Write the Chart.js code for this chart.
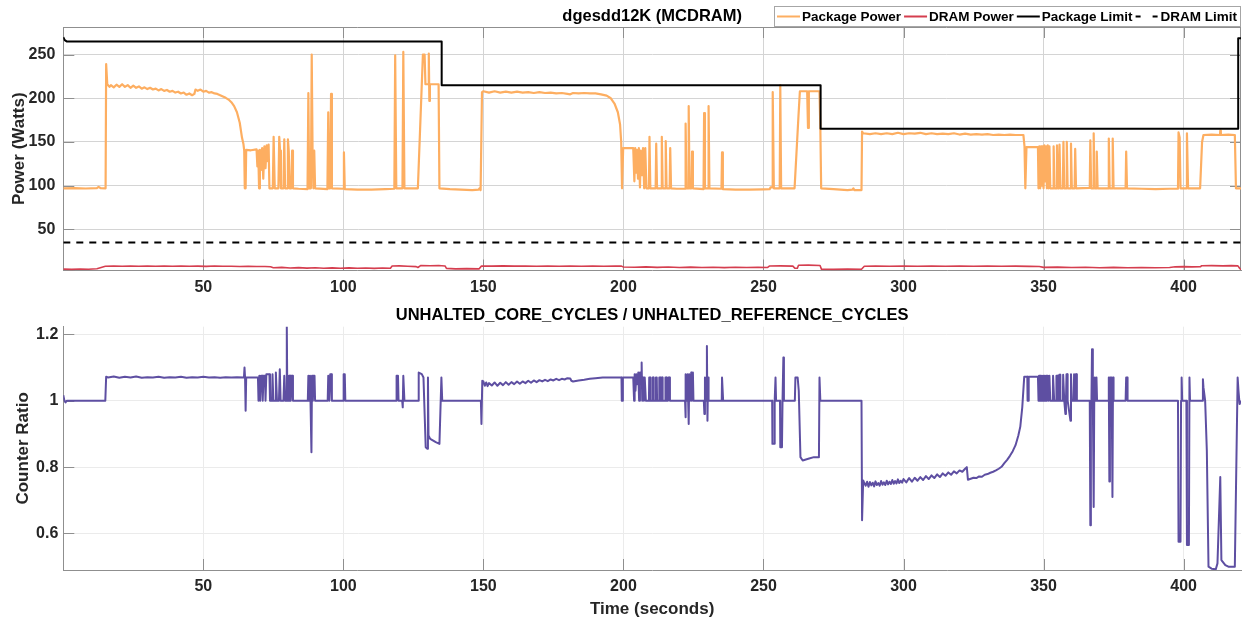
<!DOCTYPE html>
<html>
<head>
<meta charset="utf-8">
<script src="https://cdn.jsdelivr.net/npm/chart.js@4.4.1/dist/chart.umd.min.js"></script>
<style>
  html, body { margin: 0; padding: 0; background: #fff; }
  #wrap { position: relative; width: 1243px; height: 620px; }
  canvas { position: absolute; left: 0; }
  #powerChart { top: 0; }
  #ratioChart { top: 300px; }
</style>
</head>
<body>
<div id="wrap">
  <canvas id="powerChart" width="1243" height="300"></canvas>
  <canvas id="ratioChart" width="1243" height="320"></canvas>
</div>
<script>
// ---- axis ranges and tick labels ----
const timeRange = [0, 420.5];
const powerRange = [3, 281.5];
const ratioRange = [0.49, 1.223];
const timeTicks = [50, 100, 150, 200, 250, 300, 350, 400];
const powerTicks = [50, 100, 150, 200, 250];
const ratioTicks = [0.6, 0.8, 1, 1.2];

const seriesNames = ['Package Power', 'DRAM Power', 'Package Limit', 'DRAM Limit'];
const powerTitle = 'dgesdd12K (MCDRAM)';
const ratioTitle = 'UNHALTED_CORE_CYCLES / UNHALTED_REFERENCE_CYCLES';
const powerAxisTitle = 'Power (Watts)';
const ratioAxisTitle = 'Counter Ratio';
const timeAxisTitle = 'Time (seconds)';

// ---- measured series: [time (s), value] ----
const packagePower = [
 [0,97],[4,97.2],[8,96.8],[12,97.3],[12.6,98.6],[13.4,97.1],[15.1,97],[15.3,239],[15.7,216],
 [16.5,213],[17,215],[18,212.5],[19,215.5],[20,213],[21,216],[22,213],[23,215],[24,212],[25,214.5],
 [26,212],[27,213.5],[28,211],[29,212.5],[30,210.5],[31,212],[32,210],[33,211],[34,209],[35,210.5],
 [36,208.5],[37,209.5],[38,207.5],[39,208.5],[40,206.5],[41,207.5],[42,205.5],[43,206.5],[44,204],
 [45,205.5],[46,203.5],[46.8,205],[47.2,210],[48,208.5],[49,210],[50,207.5],[51,208.5],[52,206.5],
 [53,207],[54,205.5],[55,205],[56,203.5],[57,202],[58,200.5],[59,198.5],[60,195.5],[61,191],[62,184],
 [63,172],[63.8,155],[64.3,148],[64.6,140],[64.8,97],[65.1,97],[65.3,141],[67,140.5],[69,141.5],
 [69.3,122],[69.6,140],[69.9,97],[70.2,141],[70.6,118],[71,143],[71.4,108],[71.8,145],[72.2,120],
 [72.6,146],[73,128],[73.3,147],[73.6,97],[74.8,97],[75.1,156],[75.5,97],[76.8,97],[77.1,156],
 [77.4,140],[77.7,97],[78.6,97],[78.9,153],[79.2,97],[79.9,97],[80.2,153],[80.5,140],[80.8,97],
 [81.4,97],[81.7,140],[82,97],[84,96.5],[87.2,96],[87.5,206],[87.8,97],[88.4,97],[88.7,250],
 [89,140],[89.3,97],[89.6,140],[89.9,97],[94.3,96],[94.6,184],[94.9,97],[95.3,97],[95.6,205],
 [95.9,97],[99.9,96.5],[100.2,138],[100.5,96],[105,95.5],[110,95.5],[115,96],[118.2,96.5],[118.5,249],
 [118.9,97],[121.1,97],[121.4,253],[121.8,97],[126.6,97],[128.4,250],[129,250],[129.3,216],[130.3,216],
 [130.5,251],[130.7,197],[130.9,216],[134,216],[134.3,97],[138,96],[142,95.5],[146,95],[148.3,95.5],
 [148.6,97],[149,95],[149.5,207],[150,208],[152,206.5],[154,208],[156,206.5],[158,207.5],[160,206.5],
 [162,207.5],[164,206.5],[166,207],[168,206],[170,207],[172,206],[174,206.5],[176,205.5],[178,206],
 [180,205],[181,204.5],[182,206],[184,205.5],[186,206],[188,205.5],[190,205.5],[192,204.5],[194,203],
 [195.5,200],[196.8,194],[198,184],[198.8,170],[199.2,150],[199.5,97],[199.9,143],[203.5,143],
 [203.9,105],[204.2,143],[204.5,115],[204.8,141],[205.2,108],[205.5,143],[205.9,98],[206.2,140],
 [206.6,112],[207,143],[207.4,97],[207.8,143],[208.2,97],[209.1,97],[209.3,156],[209.6,97],[211.5,97],
 [211.7,148],[212,97],[213.5,97],[213.7,156],[214,97],[214.9,97],[215.1,151],[215.4,97],[216.5,97],
 [216.7,143],[217,97],[219,96.5],[222,96.5],[222.2,171],[222.5,97],[223.1,97],[223.3,191],[223.6,97],
 [224.3,97],[224.5,139],[224.8,97],[228.6,96],[228.8,183],[229.1,97],[230.2,97],[230.4,191],[230.7,97],
 [235,96.5],[235.2,138],[235.5,96],[240,95.5],[245,95.5],[250,95.8],[252.2,96],[252.5,98],[253.1,98],
 [253.3,207],[253.7,97],[255.8,97],[256,215],[256.3,97],[261.1,97],[262.5,180],[263,208],[265.6,208],
 [265.9,166],[266.2,208],[270,208],[270.3,167],[270.6,97],[275,96],[280,95],[281.8,95.5],[282.1,97],
 [282.4,95],[285,95],[285.2,162],[285.6,160],[288,159],[290,160],[292,159],[294,160],[296,159],[298,160.5],
 [300,159],[302,160],[304,159.5],[306,160.5],[308,159],[310,160],[312,159],[314,159.5],[316,159],
 [318,160],[320,158.5],[322,159.5],[324,158.5],[326,159],[328,158.5],[330,159],[332,158],[334,158.5],
 [336,158],[338,158.5],[340,158],[342.8,158],[343.2,145],[343.5,97],[343.9,144],[348,144],
 [348.2,97],[348.5,145],[348.8,97],[349.1,145],[349.4,100],[349.7,145],[350,97],[350.3,146],[350.6,105],
 [350.9,145],[351.2,97],[351.5,146],[351.8,97],[352.1,145],[352.4,97],[353.4,97],[353.6,145],[353.9,97],
 [354.6,97],[354.8,146],[355.1,97],[355.5,97],[355.7,147],[356,97],[356.9,97],[357.1,150],[357.4,97],
 [358.1,97],[358.3,150],[358.6,97],[359.6,97],[359.8,148],[360.1,97],[361.1,97],[361.3,142],[361.6,97],
 [366.5,97.5],[366.7,152],[367,97],[367.7,97],[367.9,160],[368.2,97],[368.8,97],[369,139],[369.3,97],
 [373.1,97],[373.3,154],[373.6,97],[374.5,97],[374.7,154],[375,97],[379.3,97],[379.5,139],[379.8,97],
 [385,96.5],[390,96],[395,96.5],[398,96.5],[398.2,161],[398.6,155],[398.9,97],[401,97],[401.2,160],
 [401.6,97],[405.9,97],[406.6,150],[407.1,158],[410,158.5],[413,158],[413.1,163],[413.3,158],[416,158.5],
 [418.3,158],[418.7,97],[420.5,97]
];

const dramPower = [
 [0,4.6],[3,4.3],[6,4.7],[9,4.4],[12,5],[13.5,6.5],[15,7.8],[18,8.1],[21,7.8],[24,8.2],[27,7.9],[30,8.2],
 [33,7.8],[36,8.1],[39,7.9],[42,8.2],[45,7.8],[48,8],[51,7.7],[54,8.1],[57,7.8],[60,7.9],[63,7.6],[66,7.8],
 [69,7.5],[72,7.6],[74,7.3],[75,6.2],[78,6.6],[81,5.9],[84,6.3],[87,5.7],[90,6.2],[93,5.6],[96,6],[99,5.5],
 [102,6],[105,5.6],[108,5.9],[111,5.4],[114,5.8],[116.8,5.5],[117.4,8.1],[120,8.3],[123,7.9],[126,7.4],
 [126.6,6.4],[127.7,8.8],[131,8.5],[134,8.7],[136.3,8.2],[136.8,5.4],[140,4.9],[144,5.2],[148.5,4.9],
 [149.3,8.2],[153,8],[157,8.3],[161,8],[165,8.2],[169,7.9],[173,8.2],[177,7.9],[181,8.1],[185,7.8],
 [189,8.1],[193,7.9],[197,8.1],[199.3,8],[200,7],[204,6.7],[208,7.1],[212,6.6],[216,7],[220,6.5],
 [224,6.9],[228,6.4],[232,6.8],[236,6.3],[240,6.7],[244,6.4],[248,6.8],[251.5,6.5],[252.2,8.2],[256,8.3],
 [260.5,8],[261.2,5.5],[262.1,5.6],[262.5,9],[266,9.2],[270.2,8.8],[270.7,4.6],[275,4.3],[280,4.6],
 [285,4.4],[286,7.9],[290,8.1],[295,7.8],[300,8.2],[305,7.9],[310,8.1],[315,7.8],[320,8.1],[325,7.9],
 [330,8.2],[335,7.8],[340,8],[345,7.7],[348.5,7.5],[350,6.6],[355,6.9],[360,6.4],[365,6.8],[370,6.2],
 [375,6.6],[380,6.1],[385,6.5],[390,6.2],[395,6.4],[397,7.2],[400,7.4],[403,7.1],[406,7.3],[406.5,8.5],
 [410,8.6],[414,8.3],[417,8.6],[419.4,8.3],[420,5.5],[420.5,3.8]
];

const packageLimit = [
 [0,270],[0.5,266.5],[1.2,265],[135.1,265],[135.1,215],[270.4,215],[270.4,165],[419.5,165],
 [419.5,268.5],[420.5,268.5]
];

const dramLimit = [[0,35],[420.5,35]];

const counterRatio = [
 [0,1.017],[0.4,1.0],[0.8,0.995],[1.2,1.0],[15,1.0],[15.3,1.072],[16,1.07],[18,1.073],[20,1.069],
 [22,1.072],[24,1.07],[26,1.073],[28,1.069],[30,1.071],[32,1.07],[34,1.072],[36,1.069],[38,1.071],
 [40,1.07],[42,1.072],[44,1.069],[46,1.071],[48,1.07],[50,1.072],[52,1.07],[54,1.071],[56,1.069],
 [58,1.071],[60,1.07],[62,1.071],[64.5,1.07],[64.7,1.10],[64.9,1.07],[65.1,0.97],[65.3,1.07],[69.5,1.07],
 [69.7,1.0],[70.0,1.075],[70.3,1.0],[70.6,1.075],[71,1.075],[71.2,1.0],[71.5,1.075],[72,1.075],[72.2,1.0],
 [72.5,1.08],[73.6,1.08],[73.8,1.0],[74.5,1.0],[74.7,1.08],[75,1.0],[75.7,1.0],[75.9,1.085],[76.3,1.0],
 [77,1.0],[77.3,1.095],[77.6,1.0],[78.6,1.0],[78.9,1.075],[79.2,1.0],[79.6,1.0],[79.8,1.225],[80,1.0],
 [80.2,1.075],[80.4,1.0],[80.6,1.075],[80.8,1.0],[81,1.075],[81.2,1.0],[81.5,1.075],[81.8,1.075],[82,1.0],
 [87.3,1.0],[87.5,1.075],[87.8,1.0],[88.1,1.075],[88.4,1.075],[88.6,0.845],[88.8,1.075],[89.1,1.0],
 [89.4,1.075],[89.7,1.075],[89.9,1.0],[94.4,1.0],[94.6,1.075],[95,1.0],[95.3,1.08],[95.7,1.08],[95.9,1.0],
 [99.9,1.0],[100.1,1.08],[100.5,1.08],[100.7,1.0],[118.8,1.0],[119.0,1.075],[119.5,1.075],[119.7,1.0],
 [121.0,1.0],[121.2,0.98],[121.4,1.075],[121.8,1.0],[126.7,1.0],[126.9,1.085],[128,1.08],[128.6,1.07],
 [129.4,0.86],[130.0,0.855],[130.2,1.07],[130.4,0.895],[131,0.885],[133,0.875],[134.3,0.87],[135.0,1.07],
 [135.3,1.0],[149.1,1.0],[149.3,0.93],[149.6,1.06],[150,1.058],[150.5,1.045],[151,1.055],[151.5,1.044],
 [152,1.053],[153,1.046],[154,1.055],[155,1.045],[156,1.054],[157,1.047],[158,1.056],[159,1.048],
 [160,1.056],[161,1.05],[162,1.058],[163,1.051],[164,1.058],[165,1.053],[166,1.06],[167,1.054],
 [168,1.061],[169,1.056],[170,1.062],[171,1.058],[172,1.063],[173,1.059],[174,1.064],[175,1.061],
 [176,1.066],[177,1.062],[178,1.066],[179,1.064],[180,1.068],[181,1.067],[181.4,1.06],[182,1.058],
 [184,1.061],[186,1.063],[188,1.066],[190,1.068],[192.6,1.07],[199.3,1.07],[199.4,1.0],[199.7,1.0],
 [199.8,1.07],[203.5,1.07],[203.8,1.0],[204,1.08],[204.3,1.03],[204.6,1.08],[205,1.05],[205.3,1.085],
 [205.6,1.0],[205.9,1.085],[206.3,1.085],[206.5,1.115],[206.7,1.0],[207,1.07],[207.3,1.0],[207.6,1.07],
 [208,1.0],[209.1,1.0],[209.2,1.07],[209.5,1.07],[209.6,1.0],[210.3,1.0],[210.4,1.07],[210.7,1.07],
 [210.8,1.0],[211.5,1.0],[211.6,1.07],[211.9,1.07],[212,1.0],[212.7,1.0],[212.8,1.07],[213.1,1.07],
 [213.2,1.0],[213.5,1.0],[213.6,1.07],[213.9,1.07],[214,1.0],[214.9,1.0],[215,1.07],[215.3,1.07],
 [215.4,1.0],[215.9,1.0],[216,1.07],[216.5,1.07],[216.6,1.0],[222,1.0],[222.1,0.95],[222.3,1.08],
 [222.5,1.0],[222.9,1.08],[223.1,1.0],[223.3,0.93],[223.5,1.08],[223.8,1.0],[224.2,1.085],[224.4,1.0],
 [224.8,1.085],[225,1.0],[228.7,1.0],[228.9,0.96],[229.1,1.07],[229.3,1.0],[229.5,1.0],[229.8,1.165],
 [230,0.94],[230.2,1.07],[230.4,1.0],[235.1,1.0],[235.2,1.07],[235.5,1.07],[235.6,1.0],[253.1,1.0],
 [253.2,0.87],[253.8,0.87],[254,1.0],[254.3,1.07],[254.5,1.0],[255.9,1.0],[256,0.86],[256.6,0.86],
 [256.8,1.0],[257.1,1.13],[257.3,1.0],[261.2,1.0],[261.4,1.07],[262.2,1.07],[262.6,1.03],[263.2,0.83],
 [264,0.82],[266,0.825],[268,0.83],[269.8,0.83],[270,1.07],[270.3,1.0],[285,1.0],[285.2,0.64],
 [285.6,0.76],[286,0.752],[286.5,0.744],[287,0.756],[287.5,0.741],[288,0.755],[288.5,0.745],[289,0.753],
 [289.5,0.742],[290,0.757],[290.5,0.746],[291,0.752],[291.5,0.744],[292,0.758],[292.5,0.747],[293,0.754],
 [293.5,0.746],[294,0.759],[294.5,0.748],[295,0.756],[295.5,0.749],[296,0.761],[296.5,0.75],[297,0.758],
 [297.5,0.751],[298,0.763],[298.5,0.752],[299,0.759],[299.5,0.753],[300,0.764],[301,0.754],[302,0.767],
 [303,0.756],[304,0.768],[305,0.759],[306,0.77],[307,0.761],[308,0.773],[309,0.764],[310,0.775],
 [311,0.767],[312,0.778],[313,0.77],[314,0.781],[315,0.774],[316,0.784],[317,0.777],[318,0.787],
 [319,0.781],[320,0.79],[321,0.786],[322,0.795],[322.6,0.8],[323,0.762],[324,0.765],[325,0.768],
 [326,0.767],[327,0.772],[328,0.771],[329,0.777],[330,0.779],[331,0.783],[332,0.786],[333,0.79],
 [334,0.795],[335,0.801],[336,0.812],[337,0.822],[338,0.834],[339,0.848],[340,0.866],[341,0.895],
 [341.7,0.922],[342.4,0.98],[343.1,1.072],[344.2,1.072],[344.3,1.0],[344.6,1.0],[344.7,1.072],[348,1.072],
 [348.2,1.0],[348.4,1.075],[348.7,1.0],[348.9,1.075],[349.2,1.0],[349.4,1.075],[349.7,1.0],[349.9,1.075],
 [350.2,1.0],[350.4,1.075],[350.7,1.0],[350.9,1.075],[351.2,1.0],[351.5,1.075],[351.8,1.0],[352.1,1.075],
 [352.4,1.0],[353.3,1.0],[353.4,1.075],[353.7,1.075],[353.8,1.0],[354.5,1.0],[354.6,1.075],[354.9,1.075],
 [355,1.0],[355.5,1.0],[355.6,1.078],[355.9,1.078],[356,1.0],[356.9,1.0],[357,1.078],[357.3,1.078],
 [357.4,1.0],[357.8,0.96],[358,1.0],[358.2,1.08],[358.5,1.08],[358.6,1.0],[359.6,0.94],[359.8,1.08],
 [360.1,1.0],[360.8,1.0],[360.9,1.08],[361.2,1.08],[361.3,1.0],[361.5,1.08],[361.8,1.08],[361.9,1.0],
 [366.5,1.0],[366.7,0.625],[366.9,1.0],[367.1,1.0],[367.3,1.155],[367.6,1.0],[367.9,0.68],[368.1,1.0],
 [368.3,1.07],[368.6,1.0],[368.9,1.07],[369.1,1.0],[373.1,1.0],[373.3,1.07],[373.5,0.757],[373.7,1.07],
 [374.3,1.07],[374.6,0.71],[374.8,1.07],[375,1.0],[379.3,1.0],[379.5,1.07],[379.8,1.07],[380,1.0],
 [398,1.0],[398.2,0.575],[398.9,0.575],[399.1,1.0],[399.3,1.07],[399.5,1.0],[401.0,1.0],[401.2,0.565],
 [401.9,0.565],[402.1,1.07],[402.3,1.0],[406.7,1.0],[406.9,1.065],[407.1,1.04],[407.7,1.0],[408.3,0.85],
 [408.9,0.5],[410,0.494],[411.5,0.492],[412.1,0.51],[413.1,0.77],[413.5,0.52],[414.9,0.505],[416,0.5],
 [418.3,0.5],[419.3,1.07],[419.6,1.03],[420,0.99],[420.5,1.0]
];

// ---- styling ----
const FONT = '"Liberation Sans", Arial, Helvetica, sans-serif';
const TEXT = '#262626';
const AXIS = '#8f8f8f';
const TICK_FONT = { family: FONT, size: 16, weight: 'bold' };
const LABEL_SIZE = 17;
const PLOT_LEFT = 63.3;
const PLOT_RIGHT_PAD = 2;

const toXY = rows => rows.map(([x, y]) => ({ x, y }));

function timeAxis(gridColor, height, pad) {
  return {
    type: 'linear', min: timeRange[0], max: timeRange[1],
    afterBuildTicks: s => { s.ticks = timeTicks.map(v => ({ value: v })); },
    afterFit: s => { s.height = height; },
    grid: { color: gridColor, lineWidth: 1, drawTicks: false },
    border: { color: AXIS, width: 1 },
    ticks: { color: TEXT, font: TICK_FONT, padding: pad, maxRotation: 0, autoSkip: false,
             callback: v => String(v) }
  };
}

function valueAxis(range, ticks, gridColor, pad) {
  return {
    type: 'linear', min: range[0], max: range[1],
    afterBuildTicks: s => { s.ticks = ticks.map(v => ({ value: v })); },
    afterFit: s => { s.width = PLOT_LEFT; },
    grid: { color: gridColor, lineWidth: 1, drawTicks: false },
    border: { color: AXIS, width: 1 },
    ticks: { color: TEXT, font: TICK_FONT, padding: pad, autoSkip: false,
             callback: v => String(v) }
  };
}

// inward tick marks (and the closing box for the power panel)
function drawFrame(chart, yTicks, boxed) {
  const { ctx, chartArea: a, scales: { x, y } } = chart;
  const L = 11;
  ctx.save();
  ctx.strokeStyle = AXIS;
  ctx.lineWidth = 1;
  ctx.beginPath();
  for (const v of timeTicks) {
    const px = Math.round(x.getPixelForValue(v)) + 0.5;
    ctx.moveTo(px, a.bottom); ctx.lineTo(px, a.bottom - L);
    if (boxed) { ctx.moveTo(px, a.top); ctx.lineTo(px, a.top + L); }
  }
  for (const v of yTicks) {
    const py = Math.round(y.getPixelForValue(v)) + 0.5;
    ctx.moveTo(a.left, py); ctx.lineTo(a.left + L, py);
    if (boxed) { ctx.moveTo(a.right, py); ctx.lineTo(a.right - L, py); }
  }
  if (boxed) {
    const t = Math.round(a.top) + 0.5, r = Math.round(a.right) - 0.5;
    ctx.moveTo(a.left, t); ctx.lineTo(a.right, t);
    ctx.moveTo(r, a.top); ctx.lineTo(r, a.bottom);
  }
  ctx.stroke();
  ctx.restore();
}

function drawText(ctx, text, x, y, size, color, rotate) {
  ctx.save();
  ctx.font = `bold ${size}px ${FONT}`;
  ctx.fillStyle = color;
  ctx.textAlign = 'center';
  if (rotate) {
    ctx.translate(x, y);
    ctx.rotate(-Math.PI / 2);
    ctx.textBaseline = 'middle';
    ctx.fillText(text, 0, 0);
  } else {
    ctx.textBaseline = 'alphabetic';
    ctx.fillText(text, x, y);
  }
  ctx.restore();
}

function drawLegend(chart) {
  const { ctx } = chart;
  const sets = chart.data.datasets;
  const box = { left: 774, top: 6, right: 1241, bottom: 27 };
  ctx.save();
  ctx.fillStyle = '#ffffff';
  ctx.fillRect(box.left, box.top, box.right - box.left, box.bottom - box.top);
  ctx.strokeStyle = '#a6a6a6';
  ctx.lineWidth = 1;
  ctx.strokeRect(box.left + 0.5, box.top + 0.5, box.right - box.left - 1, box.bottom - box.top - 1);
  ctx.font = `bold 13.5px ${FONT}`;
  ctx.textBaseline = 'alphabetic';
  ctx.textAlign = 'left';
  const ly = 16.5;
  let x = 777;
  sets.forEach(ds => {
    ctx.strokeStyle = ds.borderColor;
    ctx.lineWidth = 2;
    ctx.beginPath();
    if (ds.borderDash) {
      ctx.moveTo(x, ly); ctx.lineTo(x + 5, ly);
      ctx.moveTo(x + 17, ly); ctx.lineTo(x + 22, ly);
    } else {
      ctx.moveTo(x, ly); ctx.lineTo(x + 23, ly);
    }
    ctx.stroke();
    ctx.fillStyle = '#000';
    ctx.fillText(ds.label, x + 25, 21.3);
    x += 25 + ctx.measureText(ds.label).width + 3;
  });
  ctx.restore();
}

const powerDecor = {
  id: 'powerDecor',
  beforeDatasetsDraw(chart) { drawFrame(chart, powerTicks, true); },
  afterDraw(chart) {
    const a = chart.chartArea;
    drawText(chart.ctx, powerTitle, (a.left + a.right) / 2, 21, 16.5, '#000');
    drawText(chart.ctx, powerAxisTitle, 19, (a.top + a.bottom) / 2, LABEL_SIZE, TEXT, true);
    drawLegend(chart);
  }
};

const ratioDecor = {
  id: 'ratioDecor',
  beforeDatasetsDraw(chart) { drawFrame(chart, ratioTicks, false); },
  afterDraw(chart) {
    const a = chart.chartArea;
    drawText(chart.ctx, ratioTitle, (a.left + a.right) / 2, 19.5, 16.5, '#000');
    drawText(chart.ctx, ratioAxisTitle, 23, (a.top + a.bottom) / 2, LABEL_SIZE, TEXT, true);
    drawText(chart.ctx, timeAxisTitle, (a.left + a.right) / 2, 314, LABEL_SIZE, TEXT);
  }
};

const lineBase = { pointRadius: 0, pointHoverRadius: 0, tension: 0, fill: false,
                   borderJoinStyle: 'round', spanGaps: true };

new Chart(document.getElementById('powerChart'), {
  type: 'line',
  data: {
    datasets: [
      { ...lineBase, label: seriesNames[0], data: toXY(packagePower), borderColor: '#FDAE61', borderWidth: 2.2, order: 4 },
      { ...lineBase, label: seriesNames[1], data: toXY(dramPower), borderColor: '#D53E4F', borderWidth: 1.6, order: 3 },
      { ...lineBase, label: seriesNames[2], data: toXY(packageLimit), borderColor: '#000000', borderWidth: 2, order: 2 },
      { ...lineBase, label: seriesNames[3], data: toXY(dramLimit), borderColor: '#000000', borderWidth: 2, borderDash: [7, 6], order: 1 }
    ]
  },
  options: {
    responsive: false, animation: false, devicePixelRatio: 1,
    parsing: false, normalized: true,
    layout: { padding: { top: 27, right: PLOT_RIGHT_PAD, left: 0, bottom: 0 } },
    plugins: { legend: { display: false }, title: { display: false }, tooltip: { enabled: false } },
    events: [],
    scales: {
      x: timeAxis('#d4d4d4', 29.5, 7),
      y: valueAxis(powerRange, powerTicks, '#d4d4d4', 8)
    }
  },
  plugins: [powerDecor]
});

new Chart(document.getElementById('ratioChart'), {
  type: 'line',
  data: {
    datasets: [
      { ...lineBase, label: 'Counter Ratio', data: toXY(counterRatio), borderColor: '#5E4FA2', borderWidth: 2 }
    ]
  },
  options: {
    responsive: false, animation: false, devicePixelRatio: 1,
    parsing: false, normalized: true,
    layout: { padding: { top: 26.7, right: PLOT_RIGHT_PAD, left: 0, bottom: 0 } },
    plugins: { legend: { display: false }, title: { display: false }, tooltip: { enabled: false } },
    events: [],
    scales: {
      x: timeAxis('#ebebeb', 50, 7),
      y: valueAxis(ratioRange, ratioTicks, '#ebebeb', 5)
    }
  },
  plugins: [ratioDecor]
});
</script>
</body>
</html>
